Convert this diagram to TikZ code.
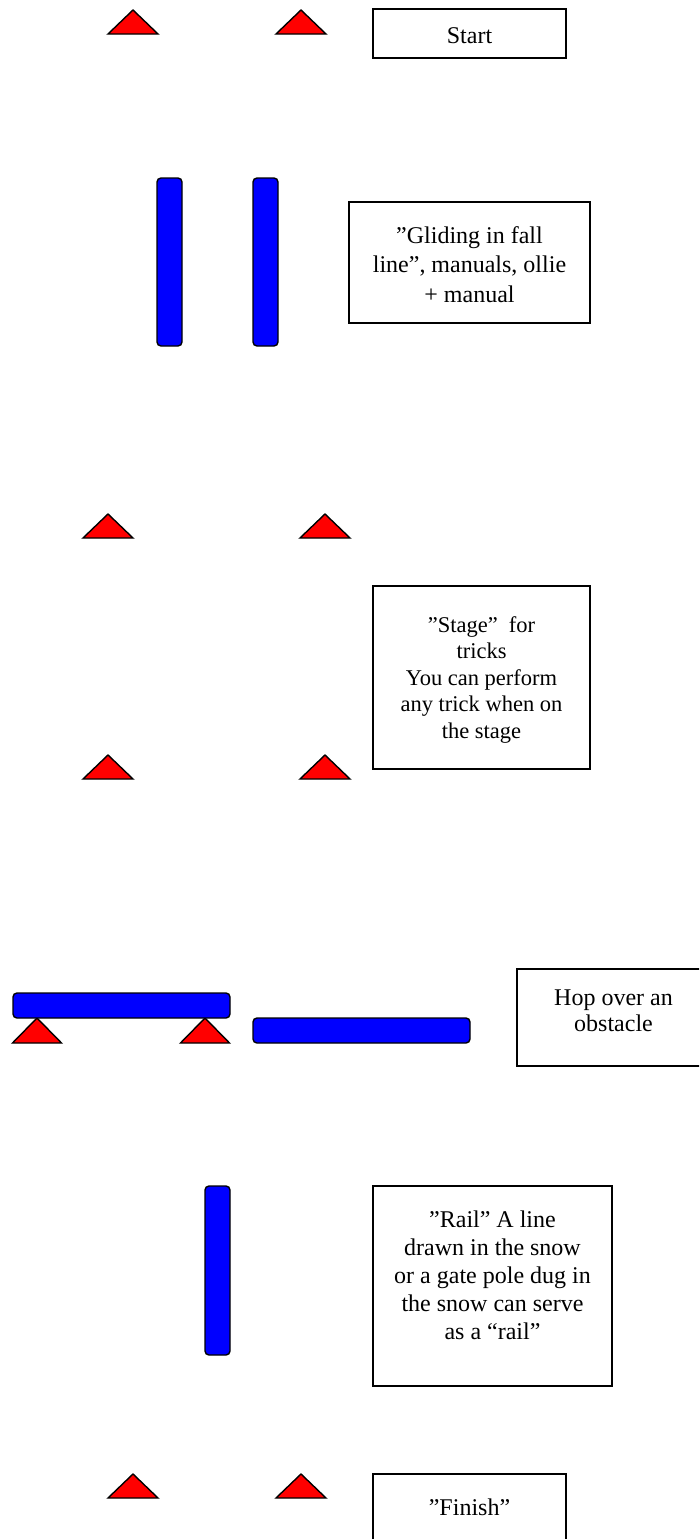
\documentclass[tikz,border=0pt]{standalone}
\usepackage{fontspec}
\setmainfont{Liberation Serif}
\definecolor{conered}{RGB}{255,0,0}
\definecolor{barblue}{RGB}{0,0,255}
\tikzset{
  cone/.style={draw=black, fill=conered, line width=1.4pt, line join=miter},
  pole/.style={draw=black, fill=barblue, line width=1.4pt, rounded corners=4pt},
  infobox/.style={draw=black, line width=1.5pt},
  boxtext/.style={anchor=base, inner sep=0pt, text=black}
}
% red cone: apex x, apex y, half width, height
\newcommand{\drawcone}[4]{%
  \draw[cone] (#1-#3,#2+#4) -- (#1,#2) -- (#1+#3,#2+#4) -- cycle;}
\begin{document}
\begin{tikzpicture}[x=1pt,y=-1pt]
\useasboundingbox (0,0) rectangle (699,1539);
\clip (0,0) rectangle (699,1539);

% start gate
\drawcone{133}{10}{25}{24}
\drawcone{301}{10}{25}{24}
\draw[infobox] (373,9) rectangle (566,58);
\node[boxtext] (start) at (469.5,43) {\fontsize{24}{28}\selectfont Start};

% gliding poles
\draw[pole] (157,178) rectangle (182,346);
\draw[pole] (253,178) rectangle (278,346);
\draw[infobox] (349,202) rectangle (590,323);
\node[boxtext] (glide) at (469.5,243) {\parbox[t]{236pt}{\centering\fontsize{24}{29.5}\selectfont
  ”Gliding in fall\\ line”, manuals, ollie\\ + manual}};

% stage
\drawcone{108}{514}{25}{24}
\drawcone{325}{514}{25}{24}
\drawcone{108}{755}{25}{24}
\drawcone{325}{755}{25}{24}
\draw[infobox] (373,586) rectangle (590,769);
\node[boxtext] (stage) at (481.5,632) {\parbox[t]{212pt}{\centering\fontsize{22.5}{26.5}\selectfont
  ”Stage”\ \ for\\ tricks\\ You can perform\\ any trick when on\\ the stage}};

% obstacle
\drawcone{37}{1018}{24.5}{25}
\drawcone{205}{1018}{24.5}{25}
\draw[pole] (13,993) rectangle (230,1018);
\draw[pole] (253,1018) rectangle (470,1043);
\draw[infobox] (517,969) rectangle (710,1066);
\node[boxtext] (hop) at (613.5,1005) {\parbox[t]{190pt}{\centering\fontsize{24}{26.5}\selectfont
  Hop over an\\ obstacle}};

% rail
\draw[pole] (205,1186) rectangle (230,1355);
\draw[infobox] (373,1186) rectangle (612,1386);
\node[boxtext] (rail) at (492.5,1227) {\parbox[t]{234pt}{\centering\fontsize{24}{28}\selectfont
  ”Rail” A line\\ drawn in the snow\\ or a gate pole dug in\\ the snow can serve\\ as a “rail”}};

% finish gate
\drawcone{133}{1474}{25}{24}
\drawcone{301}{1474}{25}{24}
\draw[infobox] (373,1474) rectangle (566,1570);
\node[boxtext] (finish) at (469.5,1515) {\fontsize{24}{28}\selectfont ”Finish”};
\end{tikzpicture}
\end{document}
